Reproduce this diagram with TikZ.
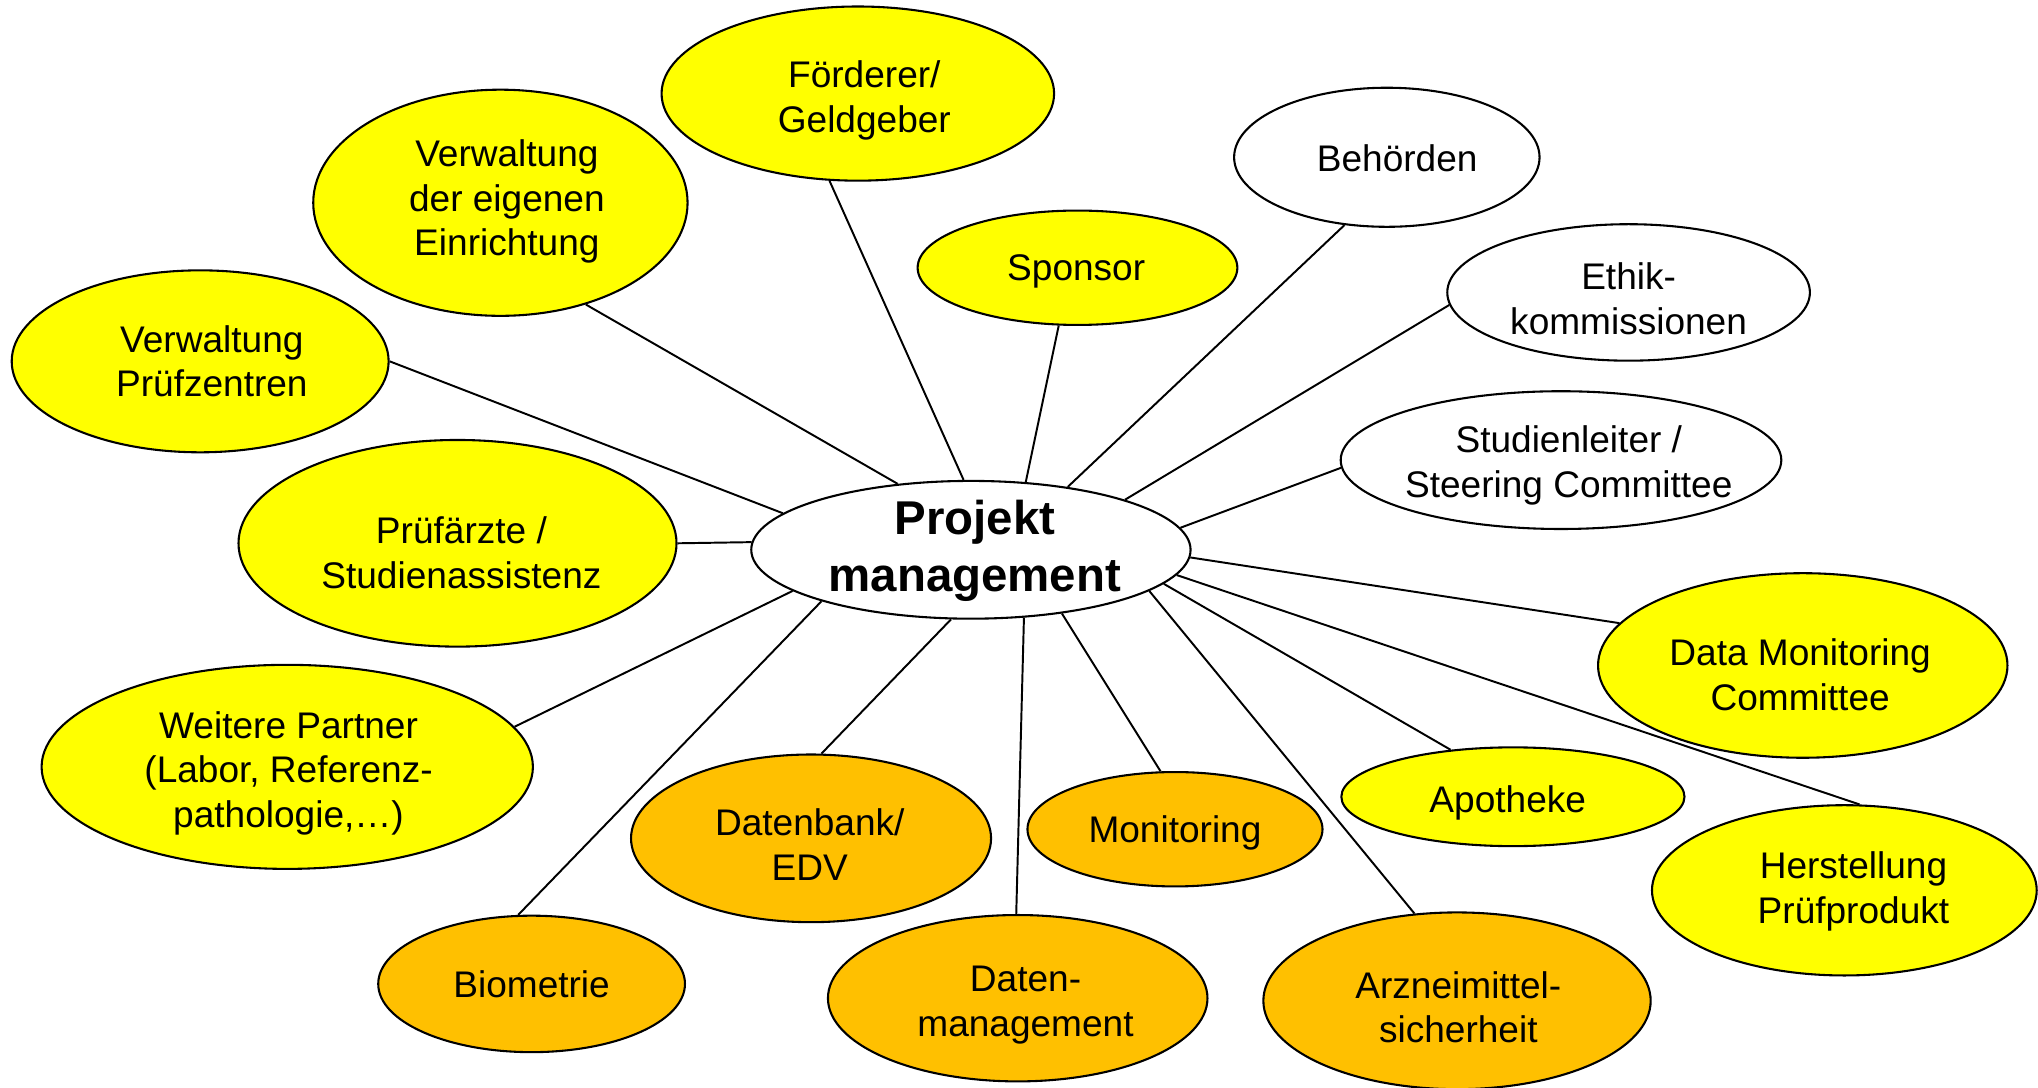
\documentclass[tikz,border=0pt]{standalone}
\usepackage{fontspec}
\setmainfont{Liberation Sans}
\usetikzlibrary{shapes.geometric}
\definecolor{yel}{HTML}{FFFF00}
\definecolor{ora}{HTML}{FFC000}
\begin{document}
\begin{tikzpicture}[x=1pt,y=-1pt,
  el/.style={ellipse, draw=black, line width=1.6pt, inner sep=0pt},
  yl/.style={el, fill=yel},
  og/.style={el, fill=ora},
  wh/.style={el, fill=white},
  txt/.style={align=center, inner sep=0pt, yshift=-3pt, font=\fontsize{28.5}{34.5}\selectfont},
  bigtxt/.style={align=center, inner sep=0pt, yshift=-3pt, font=\fontsize{36.5}{44}\selectfont\bfseries},
  con/.style={line width=1.5pt}]
\useasboundingbox (0,0) rectangle (1568,837);

% ellipses
\node[wh, minimum width=338pt, minimum height=106pt] (pm) at (747,423) {};
\node[yl, minimum width=302pt, minimum height=134pt] (foer) at (660,72) {};
\node[yl, minimum width=288pt, minimum height=174pt] (veig) at (385,156) {};
\node[yl, minimum width=290pt, minimum height=140pt] (vpz) at (154,278) {};
\node[yl, minimum width=337pt, minimum height=159pt] (pa) at (352,418) {};
\node[yl, minimum width=378pt, minimum height=157pt] (wp) at (221,590) {};
\node[og, minimum width=236pt, minimum height=105pt] (bio) at (409,757) {};
\node[og, minimum width=277pt, minimum height=129pt] (db) at (624,645) {};
\node[og, minimum width=292pt, minimum height=128pt] (dm) at (783,768) {};
\node[og, minimum width=227pt, minimum height=88pt] (mon) at (904,638) {};
\node[og, minimum width=298pt, minimum height=136pt] (ams) at (1121,770) {};
\node[yl, minimum width=264pt, minimum height=76pt] (apo) at (1164,613) {};
\node[yl, minimum width=296pt, minimum height=131pt] (hp) at (1419,685) {};
\node[yl, minimum width=315pt, minimum height=142pt] (dmc) at (1387,512) {};
\node[wh, minimum width=339pt, minimum height=106pt] (sl) at (1201,354) {};
\node[wh, minimum width=279pt, minimum height=105pt] (eth) at (1253,225) {};
\node[wh, minimum width=235pt, minimum height=107pt] (beh) at (1067,121) {};
\node[yl, minimum width=246pt, minimum height=88pt] (spo) at (829,206) {};

% texts
\node[bigtxt] (pm-t) at (750,421) {Projekt\\management};
\node[txt] (foer-t) at (665,74) {Förderer/\\Geldgeber};
\node[txt] (veig-t) at (390,152) {Verwaltung\\der eigenen\\Einrichtung};
\node[txt] (vpz-t) at (163,275) {Verwaltung\\Prüfzentren};
\node[txt] (pa-t) at (355,422) {Prüfärzte /\\Studienassistenz};
\node[txt] (wp-t) at (222,592) {Weitere Partner\\(Labor, Referenz-\\pathologie,…)};
\node[txt] (bio-t) at (409,754) {Biometrie};
\node[txt] (db-t) at (623,647) {Datenbank/\\EDV};
\node[txt] (dm-t) at (789,770) {Daten-\\management};
\node[txt] (mon-t) at (904,638) {Monitoring};
\node[txt] (ams-t) at (1122,772) {Arzneimittel-\\sicherheit};
\node[txt] (apo-t) at (1160,615) {Apotheke};
\node[txt] (hp-t) at (1426,683) {Herstellung\\Prüfprodukt};
\node[txt] (dmc-t) at (1385,516) {Data Monitoring\\Committee};
\node[txt] (sl-t) at (1207,355) {Studienleiter /\\Steering Committee};
\node[txt] (eth-t) at (1253,227) {Ethik-\\kommissionen};
\node[txt] (beh-t) at (1075,119) {Behörden};
\node[txt] (spo-t) at (828,206) {Sponsor};

% connectors
\draw[con] (foer.-108) -- (pm.96.5);
\draw[con] (veig.-50.4) -- (pm.138.4);
\draw[con] (vpz.-0.5) -- (pm.169);
\draw[con] (pa.0) -- (pm.178.3);
\draw[con] (wp.10.2) -- (pm.-167.9);
\draw[con] (bio.101.7) -- (pm.-161.4);
\draw[con] (db.83) -- (pm.-106.8);
\draw[con] (dm.91.8) -- (pm.-52.8);
\draw[con] (mon.104) -- (pm.-35.4);
\draw[con] (ams.116.2) -- (pm.-13.2);
\draw[con] (apo.143.3) -- (pm.-10.7);
\draw[con] (hp.80.4) -- (pm.-7.2);
\draw[con] (dmc.167.1) -- (pm.-2.4);
\draw[con] (sl.-178.3) -- (pm.6.5);
\draw[con] (eth.-176.7) -- (pm.18.4);
\draw[con] (beh.-122.7) -- (pm.33.9);
\draw[con] (spo.-108.8) -- (pm.51.1);
\end{tikzpicture}
\end{document}
